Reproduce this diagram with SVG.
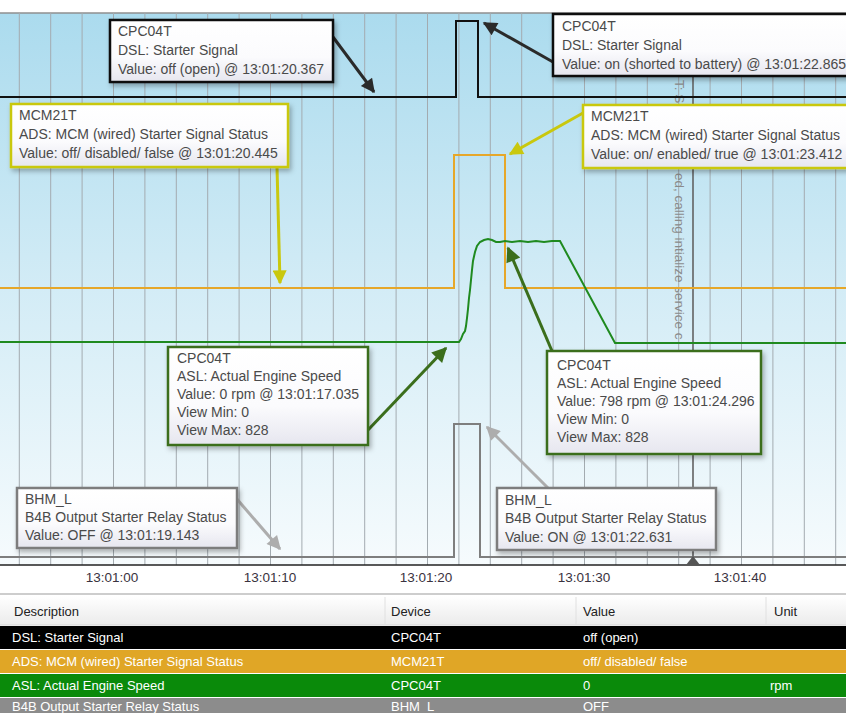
<svg xmlns="http://www.w3.org/2000/svg" width="846" height="713" viewBox="0 0 846 713">
<defs>
<linearGradient id="bg" x1="0" y1="0" x2="0" y2="1">
<stop offset="0" stop-color="#abdbee"/>
<stop offset="0.5" stop-color="#d3ecf6"/>
<stop offset="1" stop-color="#f6fbfd"/>
</linearGradient>
<linearGradient id="box" x1="0" y1="0" x2="0" y2="1">
<stop offset="0" stop-color="#ffffff"/>
<stop offset="0.6" stop-color="#fbfbfd"/>
<stop offset="1" stop-color="#e6e6ef"/>
</linearGradient>
<linearGradient id="hdr" x1="0" y1="0" x2="0" y2="1">
<stop offset="0" stop-color="#ffffff"/>
<stop offset="1" stop-color="#ebebeb"/>
</linearGradient>
<filter id="sh" x="-10%" y="-20%" width="130%" height="150%">
<feDropShadow dx="2" dy="3" stdDeviation="2.5" flood-color="#000" flood-opacity="0.3"/>
</filter>
<marker id="mBlack" viewBox="0 0 10 10" refX="9" refY="5" markerWidth="16" markerHeight="14" markerUnits="userSpaceOnUse" orient="auto"><path d="M0,0 L10,5 L0,10 z" fill="#2a2a2a"/></marker>
<marker id="mYel" viewBox="0 0 10 10" refX="9" refY="5" markerWidth="16" markerHeight="14" markerUnits="userSpaceOnUse" orient="auto"><path d="M0,0 L10,5 L0,10 z" fill="#c9c80e"/></marker>
<marker id="mGrn" viewBox="0 0 10 10" refX="9" refY="5" markerWidth="18" markerHeight="15" markerUnits="userSpaceOnUse" orient="auto"><path d="M0,0 L10,5 L0,10 z" fill="#3b6e1c"/></marker>
<marker id="mGry" viewBox="0 0 10 10" refX="9" refY="5" markerWidth="16" markerHeight="14" markerUnits="userSpaceOnUse" orient="auto"><path d="M0,0 L10,5 L0,10 z" fill="#adadad"/></marker>
</defs>
<style>
.ct{font-family:"Liberation Sans",Arial,sans-serif;font-size:14px;fill:#4a4a4a}
.ax{font-family:"Liberation Sans",Arial,sans-serif;font-size:13.5px;fill:#3a3340;text-anchor:middle}
.th{font-family:"Liberation Sans",Arial,sans-serif;font-size:13px;fill:#222}
.td{font-family:"Liberation Sans",Arial,sans-serif;font-size:13px;fill:#fff}
.box{fill:url(#box);stroke-width:2.5;filter:url(#sh)}
.grid{stroke:#a3abb0;stroke-width:1;fill:none}
.sig{fill:none;stroke-width:2}
.arr{fill:none;stroke-width:3}
.vt{font-family:"Liberation Sans",Arial,sans-serif;font-size:13.5px;fill:#8a8a8a}
</style>
<rect x="0" y="0" width="846" height="713" fill="#fff"/>
<g id="plot">
<rect x="0" y="13" width="846" height="552" fill="url(#bg)"/>
<line x1="0" y1="13" x2="846" y2="13" stroke="#8f8f8f" stroke-width="1.5"/>
<path class="grid" d="M19.3,13V565M50.7,13V565M82.1,13V565M113.5,13V565M144.9,13V565M176.3,13V565M207.7,13V565M239.1,13V565M270.5,13V565M301.9,13V565M333.3,13V565M364.7,13V565M396.1,13V565M427.5,13V565M458.9,13V565M490.3,13V565M521.7,13V565M553.1,13V565M584.5,13V565M615.9,13V565M647.3,13V565M678.7,13V565M710.1,13V565M741.5,13V565M772.9,13V565M804.3,13V565M835.7,13V565"/>
<line x1="693" y1="13" x2="693" y2="565" stroke="#626262" stroke-width="1.6"/>
<text class="vt" transform="translate(675,80) rotate(90)">T: S</text>
<text class="vt" transform="translate(675,173) rotate(90)">ed, calling intialize service c</text>
<polyline class="sig" stroke="#7e7e7e" points="0,557 454,557 454,424 480,424 480,557 846,557"/>
<polyline class="sig" stroke="#e6a72a" points="0,288 454,288 454,155 505,155 505,288 846,288"/>
<polyline class="sig" stroke="#1f8a1f" stroke-width="2.3" points="0,342 459,342 461,339 463,334 465,331 466,326 467,318 468,309 469,298 470,290 471,280 472,270 473,261 475,252 477,246 480,242 484,240 488,239 492,240 496,242 500,242 505,241 512,242 520,241 528,242 536,241 544,242 552,241 560,241 615,343 846,343"/>
<polyline class="sig" stroke="#111" points="0,97 456,97 456,21 478,21 478,97 846,97"/>
<line x1="0" y1="565" x2="846" y2="565" stroke="#222" stroke-width="1.5"/>
<path d="M686,565 L693,556 L700,565 z" fill="#555"/>
</g>
<g id="axis">
<text class="ax" x="112" y="582">13:01:00</text>
<text class="ax" x="270" y="582">13:01:10</text>
<text class="ax" x="426" y="582">13:01:20</text>
<text class="ax" x="584" y="582">13:01:30</text>
<text class="ax" x="740" y="582">13:01:40</text>
</g>
<g id="connectors">
<line class="arr" stroke="#2a2a2a" x1="333" y1="37" x2="374" y2="92" marker-end="url(#mBlack)"/>
<line class="arr" stroke="#2a2a2a" x1="553" y1="62" x2="484" y2="23" marker-end="url(#mBlack)"/>
<line class="arr" stroke="#c9c80e" x1="277" y1="167" x2="280" y2="283" marker-end="url(#mYel)"/>
<line class="arr" stroke="#c9c80e" x1="583" y1="113" x2="510" y2="154" marker-end="url(#mYel)"/>
<line class="arr" stroke="#3b6e1c" x1="368" y1="430" x2="446" y2="348" marker-end="url(#mGrn)"/>
<line class="arr" stroke="#3b6e1c" x1="552" y1="351" x2="508" y2="248" marker-end="url(#mGrn)"/>
<line class="arr" stroke="#adadad" x1="236" y1="498" x2="280" y2="549" marker-end="url(#mGry)"/>
<line class="arr" stroke="#adadad" x1="548" y1="488" x2="487" y2="427" marker-end="url(#mGry)"/>
</g>
<g id="callout-dsl-off">
<rect class="box" x="110" y="20" width="223" height="62" stroke="#111"/>
<text class="ct" x="118" y="36">CPC04T</text>
<text class="ct" x="118" y="55">DSL: Starter Signal</text>
<text class="ct" x="118" y="74">Value: off (open) @ 13:01:20.367</text>
</g>
<g id="callout-dsl-on">
<rect class="box" x="553" y="14" width="310" height="62" stroke="#111"/>
<text class="ct" x="562" y="31">CPC04T</text>
<text class="ct" x="562" y="50">DSL: Starter Signal</text>
<text class="ct" x="562" y="69">Value: on (shorted to battery) @ 13:01:22.865</text>
</g>
<g id="callout-ads-off">
<rect class="box" x="11" y="104" width="277" height="63" stroke="#c9c80e"/>
<text class="ct" x="19" y="120">MCM21T</text>
<text class="ct" x="19" y="139">ADS: MCM (wired) Starter Signal Status</text>
<text class="ct" x="19" y="158">Value: off/ disabled/ false @ 13:01:20.445</text>
</g>
<g id="callout-ads-on">
<rect class="box" x="583" y="105" width="280" height="63" stroke="#c9c80e"/>
<text class="ct" x="591" y="121">MCM21T</text>
<text class="ct" x="591" y="140">ADS: MCM (wired) Starter Signal Status</text>
<text class="ct" x="591" y="159">Value: on/ enabled/ true @ 13:01:23.412</text>
</g>
<g id="callout-asl-0">
<rect class="box" x="168" y="347" width="200" height="98" stroke="#3b6e1c"/>
<text class="ct" x="177" y="363">CPC04T</text>
<text class="ct" x="177" y="381">ASL: Actual Engine Speed</text>
<text class="ct" x="177" y="399">Value: 0 rpm @ 13:01:17.035</text>
<text class="ct" x="177" y="417">View Min: 0</text>
<text class="ct" x="177" y="435">View Max: 828</text>
</g>
<g id="callout-asl-798">
<rect class="box" x="547" y="351" width="214" height="103" stroke="#3b6e1c"/>
<text class="ct" x="557" y="370">CPC04T</text>
<text class="ct" x="557" y="388">ASL: Actual Engine Speed</text>
<text class="ct" x="557" y="406">Value: 798 rpm @ 13:01:24.296</text>
<text class="ct" x="557" y="424">View Min: 0</text>
<text class="ct" x="557" y="442">View Max: 828</text>
</g>
<g id="callout-b4b-off">
<rect class="box" x="17" y="488" width="220" height="60" stroke="#7d7d7d"/>
<text class="ct" x="25" y="504">BHM_L</text>
<text class="ct" x="25" y="522">B4B Output Starter Relay Status</text>
<text class="ct" x="25" y="540">Value: OFF @ 13:01:19.143</text>
</g>
<g id="callout-b4b-on">
<rect class="box" x="497" y="488" width="219" height="62" stroke="#7d7d7d"/>
<text class="ct" x="505" y="505">BHM_L</text>
<text class="ct" x="505" y="523">B4B Output Starter Relay Status</text>
<text class="ct" x="505" y="542">Value: ON @ 13:01:22.631</text>
</g>
<g id="table">
<line x1="0" y1="594" x2="846" y2="594" stroke="#bdbdbd" stroke-width="1.5"/>
<rect x="0" y="596" width="846" height="29" fill="url(#hdr)"/>
<line x1="0" y1="625" x2="846" y2="625" stroke="#d4d4d4"/>
<path d="M385,597V624M576,597V624M766,597V624" stroke="#e0e0e0"/>
<text class="th" x="14" y="616">Description</text>
<text class="th" x="391" y="616">Device</text>
<text class="th" x="583" y="616">Value</text>
<text class="th" x="774" y="616">Unit</text>
<rect x="0" y="626" width="846" height="23" fill="#000"/>
<text class="td" x="12" y="642">DSL: Starter Signal</text>
<text class="td" x="391" y="642">CPC04T</text>
<text class="td" x="583" y="642">off (open)</text>
<rect x="0" y="650" width="846" height="23" fill="#e0a626"/>
<text class="td" x="12" y="666" fill="#fbf3dd">ADS: MCM (wired) Starter Signal Status</text>
<text class="td" x="391" y="666">MCM21T</text>
<text class="td" x="583" y="666">off/ disabled/ false</text>
<rect x="0" y="674" width="846" height="23" fill="#0a8a0a"/>
<text class="td" x="12" y="690">ASL: Actual Engine Speed</text>
<text class="td" x="391" y="690">CPC04T</text>
<text class="td" x="583" y="690">0</text>
<text class="td" x="770" y="690">rpm</text>
<rect x="0" y="698" width="846" height="15" fill="#8c8c8c"/>
<text class="td" x="12" y="711">B4B Output Starter Relay Status</text>
<text class="td" x="391" y="711">BHM_L</text>
<text class="td" x="583" y="711">OFF</text>
</g>
</svg>
